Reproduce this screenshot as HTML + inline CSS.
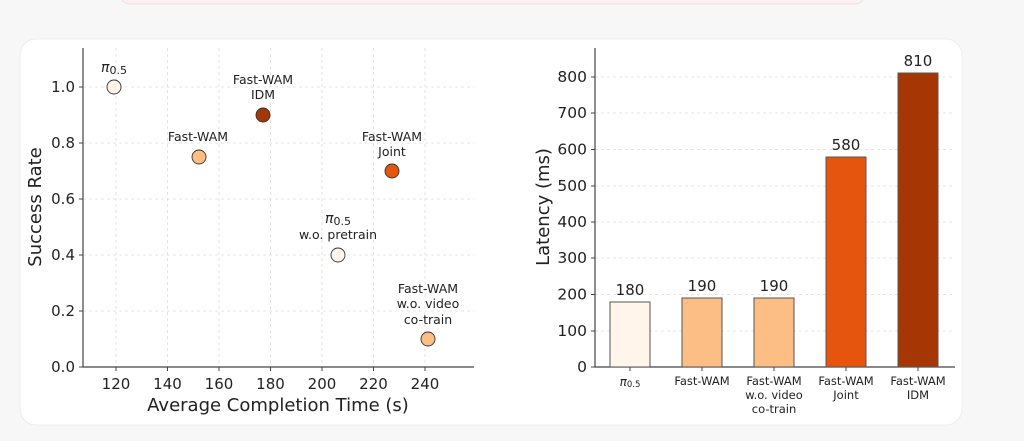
<!DOCTYPE html>
<html><head><meta charset="utf-8"><style>
body{margin:0;width:1024px;height:437px;background:#f7f7f7;overflow:hidden;font-family:"DejaVu Sans","Liberation Sans",sans-serif}
</style></head><body>
<svg width="1024" height="437" xmlns="http://www.w3.org/2000/svg" font-family="DejaVu Sans, Liberation Sans, sans-serif">
<rect x="120" y="-20" width="745" height="24" rx="10" fill="#fcf0f0" stroke="#f0e0e0"/>
<rect x="20" y="39" width="942" height="386" rx="16" fill="#fff" stroke="#ececec"/>
<g stroke="#ddd" stroke-dasharray="3,3" stroke-width="0.8">
<line x1="116" y1="48" x2="116" y2="367"/><line x1="167.5" y1="48" x2="167.5" y2="367"/><line x1="219" y1="48" x2="219" y2="367"/><line x1="270.5" y1="48" x2="270.5" y2="367"/><line x1="322" y1="48" x2="322" y2="367"/><line x1="373.5" y1="48" x2="373.5" y2="367"/><line x1="425" y1="48" x2="425" y2="367"/>
<line x1="83" y1="87" x2="474" y2="87"/><line x1="83" y1="143" x2="474" y2="143"/><line x1="83" y1="199" x2="474" y2="199"/><line x1="83" y1="255" x2="474" y2="255"/><line x1="83" y1="311" x2="474" y2="311"/>
<line x1="595" y1="77" x2="955" y2="77"/><line x1="595" y1="113" x2="955" y2="113"/><line x1="595" y1="149.5" x2="955" y2="149.5"/><line x1="595" y1="186" x2="955" y2="186"/><line x1="595" y1="222" x2="955" y2="222"/><line x1="595" y1="258" x2="955" y2="258"/><line x1="595" y1="294.5" x2="955" y2="294.5"/><line x1="595" y1="331" x2="955" y2="331"/>
</g>
<g stroke="#444" stroke-width="1.2" fill="none">
<polyline points="83,48 83,367 474,367"/>
<polyline points="595,48 595,367 955,367"/>
</g>
<g stroke="#444" stroke-width="1">
<line x1="79" y1="87" x2="83" y2="87"/><line x1="79" y1="143" x2="83" y2="143"/><line x1="79" y1="199" x2="83" y2="199"/><line x1="79" y1="255" x2="83" y2="255"/><line x1="79" y1="311" x2="83" y2="311"/><line x1="79" y1="367" x2="83" y2="367"/>
<line x1="116" y1="367" x2="116" y2="371"/><line x1="167.5" y1="367" x2="167.5" y2="371"/><line x1="219" y1="367" x2="219" y2="371"/><line x1="270.5" y1="367" x2="270.5" y2="371"/><line x1="322" y1="367" x2="322" y2="371"/><line x1="373.5" y1="367" x2="373.5" y2="371"/><line x1="425" y1="367" x2="425" y2="371"/>
<line x1="591" y1="77" x2="595" y2="77"/><line x1="591" y1="113" x2="595" y2="113"/><line x1="591" y1="149.5" x2="595" y2="149.5"/><line x1="591" y1="186" x2="595" y2="186"/><line x1="591" y1="222" x2="595" y2="222"/><line x1="591" y1="258" x2="595" y2="258"/><line x1="591" y1="294.5" x2="595" y2="294.5"/><line x1="591" y1="331" x2="595" y2="331"/><line x1="591" y1="367" x2="595" y2="367"/>
<line x1="630" y1="367" x2="630" y2="371"/><line x1="702" y1="367" x2="702" y2="371"/><line x1="774" y1="367" x2="774" y2="371"/><line x1="846" y1="367" x2="846" y2="371"/><line x1="918" y1="367" x2="918" y2="371"/>
</g>
<g font-size="15" fill="#222" text-anchor="end">
<text x="75" y="92">1.0</text><text x="75" y="148">0.8</text><text x="75" y="204">0.6</text><text x="75" y="260">0.4</text><text x="75" y="316">0.2</text><text x="75" y="372">0.0</text>
</g>
<g font-size="15.5" fill="#222" text-anchor="end">
<text x="587" y="82">800</text><text x="587" y="118">700</text><text x="587" y="154.5">600</text><text x="587" y="191">500</text><text x="587" y="227">400</text><text x="587" y="263">300</text><text x="587" y="299.5">200</text><text x="587" y="336">100</text><text x="587" y="372">0</text>
</g>
<g font-size="15" fill="#222" text-anchor="middle">
<text x="116" y="389">120</text><text x="167.5" y="389">140</text><text x="219" y="389">160</text><text x="270.5" y="389">180</text><text x="322" y="389">200</text><text x="373.5" y="389">220</text><text x="425" y="389">240</text>
</g>
<text x="278" y="411" font-size="18" fill="#222" text-anchor="middle">Average Completion Time (s)</text>
<text transform="translate(41,207) rotate(-90)" font-size="18" fill="#222" text-anchor="middle">Success Rate</text>
<text transform="translate(549,207) rotate(-90)" font-size="18" fill="#222" text-anchor="middle">Latency (ms)</text>
<g stroke="#333" stroke-width="0.9">
<circle cx="114" cy="87" r="7" fill="#fff5eb"/>
<circle cx="199" cy="157" r="7" fill="#fdbe85"/>
<circle cx="263" cy="115" r="7" fill="#a63603"/>
<circle cx="338" cy="255" r="7" fill="#fff5eb"/>
<circle cx="392" cy="171" r="7" fill="#e6550d"/>
<circle cx="428" cy="339" r="7" fill="#fdbe85"/>
</g>
<g font-size="12.5" fill="#222" text-anchor="middle">
<text x="114" y="72"><tspan font-style="italic" font-size="14">π</tspan><tspan font-size="11" dy="2">0.5</tspan></text>
<text x="198" y="141">Fast-WAM</text>
<text x="263" y="84">Fast-WAM</text><text x="263" y="99">IDM</text>
<text x="392" y="141">Fast-WAM</text><text x="392" y="156">Joint</text>
<text x="338" y="223"><tspan font-style="italic" font-size="14">π</tspan><tspan font-size="11" dy="2">0.5</tspan></text>
<text x="338" y="239">w.o. pretrain</text>
<text x="428" y="293">Fast-WAM</text><text x="428" y="308">w.o. video</text><text x="428" y="324">co-train</text>
</g>
<g stroke="#555" stroke-width="1">
<rect x="610" y="302" width="40" height="65" fill="#fff5eb"/>
<rect x="682" y="298" width="40" height="69" fill="#fdbe85"/>
<rect x="754" y="298" width="40" height="69" fill="#fdbe85"/>
<rect x="826" y="157" width="40" height="210" fill="#e6550d"/>
<rect x="898" y="73" width="40" height="294" fill="#a63603"/>
</g>
<g font-size="15" fill="#222" text-anchor="middle">
<text x="630" y="295">180</text><text x="702" y="291">190</text><text x="774" y="291">190</text><text x="846" y="150">580</text><text x="918" y="66">810</text>
</g>
<g font-size="11.5" fill="#222" text-anchor="middle">
<text x="630" y="386"><tspan font-style="italic" font-size="12">π</tspan><tspan font-size="8.5" dy="1">0.5</tspan></text>
<text x="702" y="385">Fast-WAM</text>
<text x="774" y="385">Fast-WAM</text><text x="774" y="399">w.o. video</text><text x="774" y="413">co-train</text>
<text x="846" y="385">Fast-WAM</text><text x="846" y="399">Joint</text>
<text x="918" y="385">Fast-WAM</text><text x="918" y="399">IDM</text>
</g>
</svg>
</body></html>
